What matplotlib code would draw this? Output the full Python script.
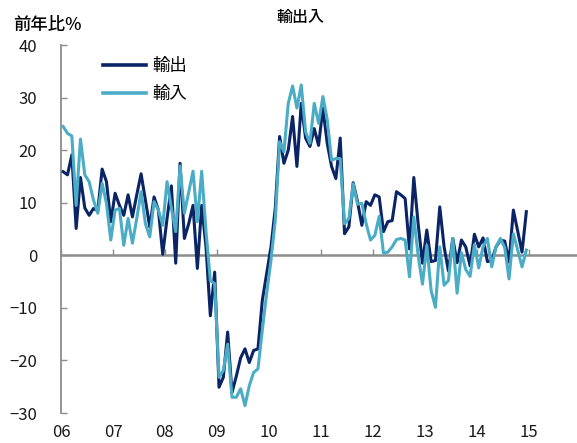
import matplotlib
matplotlib.use("Agg")
import matplotlib.pyplot as plt
import numpy as np

plt.rcParams["font.family"] = ["Noto Sans CJK JP", "DejaVu Sans"]

# ── data (monthly, Jan 2006 – Dec 2014, % y/y) ───────────────────────────────
YEAR_LABELS = ["06", "07", "08", "09", "10", "11", "12", "13", "14", "15"]

EXPORTS = [
    15.9, 15.3, 19.1, 5.1, 14.8, 9.0, 7.6, 8.9, 8.5, 16.4, 14.0, 6.4,      # 2006
    11.8, 9.5, 7.6, 11.5, 7.3, 11.5, 15.5, 10.5, 5.4, 11.1, 8.6, 0.2,      # 2007
    7.0, 13.2, -1.5, 17.5, 3.2, 6.0, 9.5, -2.5, 9.5, 1.6, -11.5, -3.2,     # 2008
    -25.1, -23.2, -14.6, -26.1, -23.0, -19.5, -17.8, -20.4, -18.1, -17.8, -8.6, -3.5,  # 2009
    1.5, 9.0, 22.6, 17.5, 20.0, 26.4, 16.9, 28.9, 22.3, 20.7, 24.1, 20.9,  # 2010
    28.0, 21.3, 16.9, 14.6, 22.3, 4.1, 5.4, 13.8, 10.2, 5.7, 10.2, 9.5,    # 2011
    11.5, 11.1, 4.5, 6.4, 6.6, 12.1, 11.5, 10.8, 1.2, 14.8, 6.0, -1.5,     # 2012
    4.8, -1.2, -1.0, 9.2, 1.6, -3.0, 3.2, -1.4, 2.9, 1.6, -2.0, 4.0,       # 2013
    1.6, 3.3, -1.2, -1.0, 1.6, 2.9, 2.7, -1.3, 8.6, 4.6, 0.6, 8.3,         # 2014
]

IMPORTS = [
    24.5, 23.2, 22.7, 9.5, 22.1, 15.3, 14.0, 10.5, 8.0, 13.7, 9.9, 2.9,    # 2006
    8.6, 8.9, 1.9, 7.0, 2.3, 7.0, 12.1, 6.0, 3.5, 10.2, 8.6, 5.7,          # 2007
    14.0, 9.0, 4.5, 17.0, 8.0, 12.0, 16.0, 6.4, 16.0, 4.5, -4.8, -5.4,     # 2008
    -23.2, -21.9, -16.9, -27.0, -27.0, -25.4, -28.6, -24.8, -22.3, -21.6, -14.3, -7.3,  # 2009
    -1.0, 6.7, 21.6, 19.7, 28.9, 32.2, 28.0, 32.4, 23.5, 21.3, 28.9, 25.1, # 2010
    30.2, 25.8, 18.1, 18.4, 18.4, 6.0, 7.0, 13.6, 9.7, 9.9, 6.0, 2.9,      # 2011
    3.8, 7.4, 0.4, 0.6, 1.6, 3.0, 3.2, 2.9, -4.1, 7.3, 0.0, -5.5,          # 2012
    1.9, -6.7, -9.9, 1.6, -5.7, -4.8, 3.2, -7.2, 0.5, -2.7, -4.0, 2.0,     # 2013
    -2.4, 1.6, 3.2, -2.2, 1.6, 3.2, 1.5, -4.5, 4.1, 1.0, -2.2, 1.0,        # 2014
]

DARK = "#0a2466"
LIGHT = "#4bacc6"
GREY = "#8c8c8c"

months = np.arange(len(EXPORTS)) + 0.5

# ── figure ────────────────────────────────────────────────────────────────────
W, H = 577, 443
fig = plt.figure(figsize=(W / 100, H / 100), dpi=100)
ax = fig.add_axes([61 / W, 1 - 413 / H, 1 - 61 / W, (413 - 45) / H])

ax.plot(months, EXPORTS, color=DARK, lw=2.2, label="輸出", zorder=3)
ax.plot(months, IMPORTS, color=LIGHT, lw=2.2, label="輸入", zorder=4)

ax.set_xlim(0, 119.2)
ax.set_ylim(-30, 40)

for side in ["top", "right", "bottom"]:
    ax.spines[side].set_visible(False)
ax.spines["left"].set_color(GREY)
ax.spines["left"].set_linewidth(1.3)

ax.set_yticks(np.arange(-30, 41, 10))
ax.tick_params(axis="y", direction="in", length=4, width=1, color=GREY,
               pad=17, labelsize=12, labelcolor="#1a1a1a")

ax.set_xticks(np.arange(0, 12 * len(YEAR_LABELS), 12))
ax.set_xticklabels(YEAR_LABELS)
ax.tick_params(axis="x", length=0, pad=8, labelsize=12, labelcolor="#1a1a1a")

# zero line with year ticks pointing up
zero = ax.secondary_xaxis(0, transform=ax.transData)
zero.set_xticks(np.arange(0, 12 * len(YEAR_LABELS), 12))
zero.set_xticklabels([])
zero.tick_params(direction="in", length=4, width=1, color=GREY)
for s in zero.spines.values():
    s.set_color(GREY)
    s.set_linewidth(1.8)

leg = ax.legend(loc="upper left", bbox_to_anchor=(103 / W, 1 - 57 / H),
                bbox_transform=fig.transFigure, frameon=False, fontsize=12.5,
                handlelength=2.5, handletextpad=0.35, labelspacing=0.6,
                borderpad=0, borderaxespad=0)
for line in leg.get_lines():
    line.set_linewidth(2.6)

fig.text(300 / W, 1 - 17 / H, "輸出入", ha="center", va="center",
         fontsize=11.5, fontweight="medium")
fig.text(13 / W, 1 - 25 / H, "前年比%", ha="left", va="center",
         fontsize=12.5, fontweight="medium")

fig.savefig("out.png", dpi=100)
